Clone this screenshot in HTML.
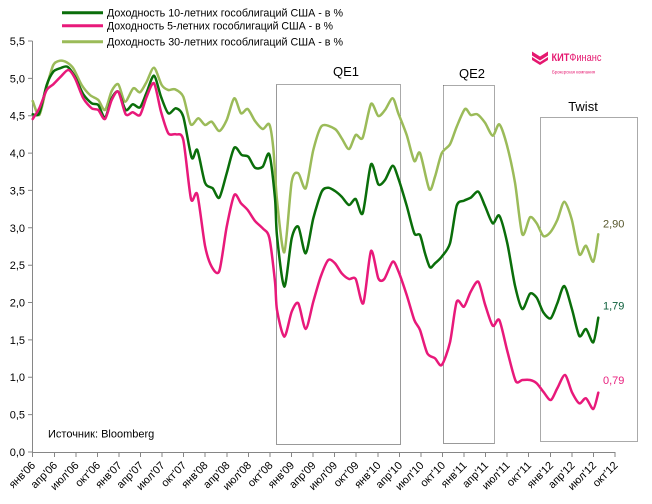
<!DOCTYPE html>
<html><head><meta charset="utf-8"><style>
html,body{margin:0;padding:0;background:#fff;}
svg{display:block;font-family:"Liberation Sans",Arial,sans-serif;}
</style></head><body>
<svg width="652" height="504" viewBox="0 0 652 504" xmlns="http://www.w3.org/2000/svg">
<rect width="652" height="504" fill="#fff"/>

<!-- Legend -->
<g font-size="11" fill="#000">
<line x1="62" y1="12.7" x2="103" y2="12.7" stroke="#0a6e0a" stroke-width="3"/>
<text x="107" y="16.5" textLength="236" lengthAdjust="spacingAndGlyphs">Доходность 10-летних гособлигаций США - в %</text>
<line x1="62" y1="25.7" x2="103" y2="25.7" stroke="#e8197a" stroke-width="3"/>
<text x="107" y="29.5" textLength="226" lengthAdjust="spacingAndGlyphs">Доходность 5-летних гособлигаций США - в %</text>
<line x1="62" y1="41.7" x2="103" y2="41.7" stroke="#9bbb59" stroke-width="3"/>
<text x="107" y="45.5" textLength="236" lengthAdjust="spacingAndGlyphs">Доходность 30-летних гособлигаций США - в %</text>
</g>

<!-- Logo -->
<g fill="#e5176f">
<polygon points="532,51.5 540,56.5 548,51.5 548,55.5 540,60.5 532,55.5"/>
<polygon points="532,57 540,62 548,57 548,60 540,65 532,60"/>
<text x="551.5" y="61" font-size="11" textLength="50" lengthAdjust="spacingAndGlyphs"><tspan font-weight="bold">КИТ</tspan>Финанс</text>
<text x="552" y="73.5" font-size="4.5" textLength="43" lengthAdjust="spacingAndGlyphs">Брокерская компания</text>
</g>

<!-- Axes -->
<g stroke="#868686" stroke-width="1" fill="none">
<line x1="32.5" y1="41" x2="32.5" y2="452.5"/>
<line x1="32.5" y1="452.5" x2="615" y2="452.5"/>
<path d="M28 41H32.5M28 78.4H32.5M28 115.7H32.5M28 153.1H32.5M28 190.4H32.5M28 227.8H32.5M28 265.2H32.5M28 302.5H32.5M28 339.9H32.5M28 377.2H32.5M28 414.6H32.5M28 452H32.5"/>
<path d="M32.5 452V457M54.5 452V457M76 452V457M97.5 452V457M119 452V457M140.5 452V457M162 452V457M183.5 452V457M205 452V457M227 452V457M248.5 452V457M270 452V457M291.5 452V457M313 452V457M334.5 452V457M356 452V457M378 452V457M399.5 452V457M421 452V457M442.5 452V457M464 452V457M485.5 452V457M507 452V457M528.5 452V457M550.5 452V457M572 452V457M593.5 452V457M615 452V457"/>
</g>

<!-- Y labels -->
<g font-size="11" fill="#000" text-anchor="end">
<text x="25" y="45">5,5</text>
<text x="25" y="82.4">5,0</text>
<text x="25" y="119.7">4,5</text>
<text x="25" y="157.1">4,0</text>
<text x="25" y="194.4">3,5</text>
<text x="25" y="231.8">3,0</text>
<text x="25" y="269.2">2,5</text>
<text x="25" y="306.5">2,0</text>
<text x="25" y="343.9">1,5</text>
<text x="25" y="381.2">1,0</text>
<text x="25" y="418.6">0,5</text>
<text x="25" y="456">0,0</text>
</g>

<!-- X labels -->
<g font-size="11" fill="#000" text-anchor="end">
<text transform="translate(36,466) rotate(-45)">янв'06</text>
<text transform="translate(58,466) rotate(-45)">апр'06</text>
<text transform="translate(79.5,466) rotate(-45)">июл'06</text>
<text transform="translate(101,466) rotate(-45)">окт'06</text>
<text transform="translate(122.5,466) rotate(-45)">янв'07</text>
<text transform="translate(144,466) rotate(-45)">апр'07</text>
<text transform="translate(165.5,466) rotate(-45)">июл'07</text>
<text transform="translate(187,466) rotate(-45)">окт'07</text>
<text transform="translate(208.5,466) rotate(-45)">янв'08</text>
<text transform="translate(230.5,466) rotate(-45)">апр'08</text>
<text transform="translate(252,466) rotate(-45)">июл'08</text>
<text transform="translate(273.5,466) rotate(-45)">окт'08</text>
<text transform="translate(295,466) rotate(-45)">янв'09</text>
<text transform="translate(316.5,466) rotate(-45)">апр'09</text>
<text transform="translate(338,466) rotate(-45)">июл'09</text>
<text transform="translate(359.5,466) rotate(-45)">окт'09</text>
<text transform="translate(381.5,466) rotate(-45)">янв'10</text>
<text transform="translate(403,466) rotate(-45)">апр'10</text>
<text transform="translate(424.5,466) rotate(-45)">июл'10</text>
<text transform="translate(446,466) rotate(-45)">окт'10</text>
<text transform="translate(467.5,466) rotate(-45)">янв'11</text>
<text transform="translate(489,466) rotate(-45)">апр'11</text>
<text transform="translate(510.5,466) rotate(-45)">июл'11</text>
<text transform="translate(532,466) rotate(-45)">окт'11</text>
<text transform="translate(554,466) rotate(-45)">янв'12</text>
<text transform="translate(575.5,466) rotate(-45)">апр'12</text>
<text transform="translate(597,466) rotate(-45)">июл'12</text>
<text transform="translate(618.5,466) rotate(-45)">окт'12</text>
</g>

<!-- Boxes -->
<g fill="none" stroke-width="1">
<path d="M276.5 84.5H400.5V300" stroke="#555" stroke-dasharray="1 1"/>
<path d="M276.5 84.5V444.5H400.5V300" stroke="#999"/>
<path d="M443.5 85.5H494.5V443.5" stroke="#555" stroke-dasharray="1 1"/>
<path d="M443.5 85.5V300" stroke="#555" stroke-dasharray="1 1"/>
<path d="M443.5 300V443.5H494.5" stroke="#999"/>
<rect x="540.5" y="117.5" width="97" height="324" stroke="#555" stroke-dasharray="1 1"/>
</g>
<g font-size="13" fill="#000" text-anchor="middle">
<text x="346" y="76">QE1</text>
<text x="472" y="78">QE2</text>
<text x="583" y="111">Twist</text>
</g>

<!-- Series -->
<g fill="none" stroke-width="2.5" stroke-linejoin="round" stroke-linecap="round">
<polyline class="s" stroke="#9bbb59" points="32.7,101 39.3,115 46.7,86.7 53.3,65 60,60.7 66.7,62.3 73.3,68.3 81.7,85 90,95 98.3,100 105,110 111.7,91 118.3,84.3 125,101.7 133.3,88.3 140,92.3 146.7,81.7 154,67.7 161.7,85 168.3,90 175,89.3 183.3,96.7 190.7,124.3 198.3,118.3 205,125 211.7,121.7 219.3,131 226.7,120 234.3,98.3 241,113.3 247.7,109 255,121 262.7,129 269.3,124.3 273.3,148.3 277,200 284.3,252.3 291.7,181.7 298.3,173.3 305.7,188.3 313.3,150 321.7,126 335,129 341.7,138.3 349,149 355.7,135 362.7,137.7 371,104 378.3,116 385,110 392.7,98.3 398.3,113.3 406.7,135 414.3,161 420,153 429.3,189.3 435,176.7 441.7,153.3 450,144.3 456.7,126.7 465,109 470.7,115 477.3,114.3 485,122.7 492.7,135.7 499.3,124.3 506.7,144.3 515,182.7 522.3,234.3 530,217.3 536.7,223.3 543.3,236 550,232.7 557.3,220 564.3,201.7 571.7,219.3 579.3,254.3 586,245.7 593.3,261.7 598.3,234.3"/>
<polyline class="s" stroke="#0a6e0a" points="32.7,114.3 39.3,113.3 46.7,85 53.3,71.7 60,68.3 67.3,66.7 75,76.7 83.3,94.3 91.7,103.3 98.3,105 105,117.7 111.7,98.3 118.3,91.7 125.7,110 132.7,104.3 140,107.3 146.7,92.3 154,75.7 161,96.7 168.3,113.3 176,108.3 183.3,116.7 191.7,157.7 197.3,150 205,182.7 212.7,188.3 219.3,197.7 226.7,173.3 234.3,147.7 241.7,155 248.3,156.7 255,167.7 262.7,166.7 269.3,154.3 275,198.3 277,236 284.3,286.7 291.7,238.3 298.3,226.7 305.7,253.3 313.3,218.3 321.7,191.7 328.3,187.7 335,191 341.7,196.7 349,205 355.7,199 362.7,213.3 371,164.3 378.3,184.3 385,180 392.7,165.7 398.3,178.3 406.7,205.7 414.3,233.3 420,235 425,253.3 430,267.3 435,263.3 441.7,256.7 450,243.3 456.7,205.7 464,200.7 470.7,197.7 478.3,191.7 485,206 492.7,223.3 499.3,215.7 507.3,243.3 515,285.7 522.3,309 530,293.7 536.7,297.7 543.3,312.3 550.7,318.3 557.3,303.3 564.3,286 572,309.3 579.3,336 586,329 593.3,342.3 598.3,317.7"/>
<polyline class="s" stroke="#e8197a" points="32.7,119 39.3,108.3 46.7,90 53.3,84.3 60.7,76.7 68.3,70 75,78.3 83.3,98.3 91.7,108.3 98.3,110 105,119 111.7,100 118.3,91.7 125.7,114.3 132.7,112.3 140,115 146.7,96.7 154,83.3 161,111.7 168.3,133.3 176,134.3 183.3,140 191,199 197.3,194.3 205,245.7 211.7,266.7 219.3,271 226.7,226.7 234.3,195 241,203.3 247.7,210 255,221 262.7,228.3 269.3,237.7 275,281.7 277,310 284.3,336.7 291.7,311.7 298.3,303.3 305.7,329 313.3,301.7 320.7,276.7 328.3,260 335,263.3 341.7,273.3 349,279 355.7,279 363.3,303.3 371,251 378.3,278.3 384.3,279 392.7,261.7 398.3,271 406.7,295 414.3,320 420,330 427.3,353.3 435,358.3 441.7,365 450,342.3 456.7,301.7 464,306.7 470.7,291.7 478.3,281.7 485,304.3 492.7,325.7 499.3,320 507.3,351 515.7,381 522.3,380 530,380 536.7,383.3 543.3,391.7 550.7,400 557.3,388.3 565,375 572,392.3 579.3,403.3 586,398.3 593.3,409 598.3,392.7"/>
</g>

<!-- End value labels -->
<g font-size="11">
<text x="603" y="227.5" fill="#55552a">2,90</text>
<text x="603" y="309.5" fill="#0b5e3a">1,79</text>
<text x="603" y="384" fill="#e8207e">0,79</text>
</g>

<text x="48" y="437.5" font-size="11" fill="#000">Источник: Bloomberg</text>
</svg>
<script>
(function(){
  try{
    var ns="http://www.w3.org/2000/svg";
    var pls=document.querySelectorAll("polyline.s");
    for(var k=0;k<pls.length;k++){
      var pl=pls[k];
      var raw=pl.getAttribute("points").trim().split(/\s+/).map(function(s){var a=s.split(",");return [parseFloat(a[0]),parseFloat(a[1])];});
      var d="M"+raw[0][0]+" "+raw[0][1];
      for(var i=0;i<raw.length-1;i++){
        var p0=raw[i-1]||raw[i],p1=raw[i],p2=raw[i+1],p3=raw[i+2]||raw[i+1];
        var t=1/6*0.8;
        var c1x=p1[0]+(p2[0]-p0[0])*t,c1y=p1[1]+(p2[1]-p0[1])*t;
        var c2x=p2[0]-(p3[0]-p1[0])*t,c2y=p2[1]-(p3[1]-p1[1])*t;
        d+=" C"+c1x.toFixed(2)+" "+c1y.toFixed(2)+" "+c2x.toFixed(2)+" "+c2y.toFixed(2)+" "+p2[0]+" "+p2[1];
      }
      var path=document.createElementNS(ns,"path");
      path.setAttribute("d",d);
      path.setAttribute("stroke",pl.getAttribute("stroke"));
      pl.parentNode.replaceChild(path,pl);
    }
  }catch(e){}
})();
</script>
</body></html>
